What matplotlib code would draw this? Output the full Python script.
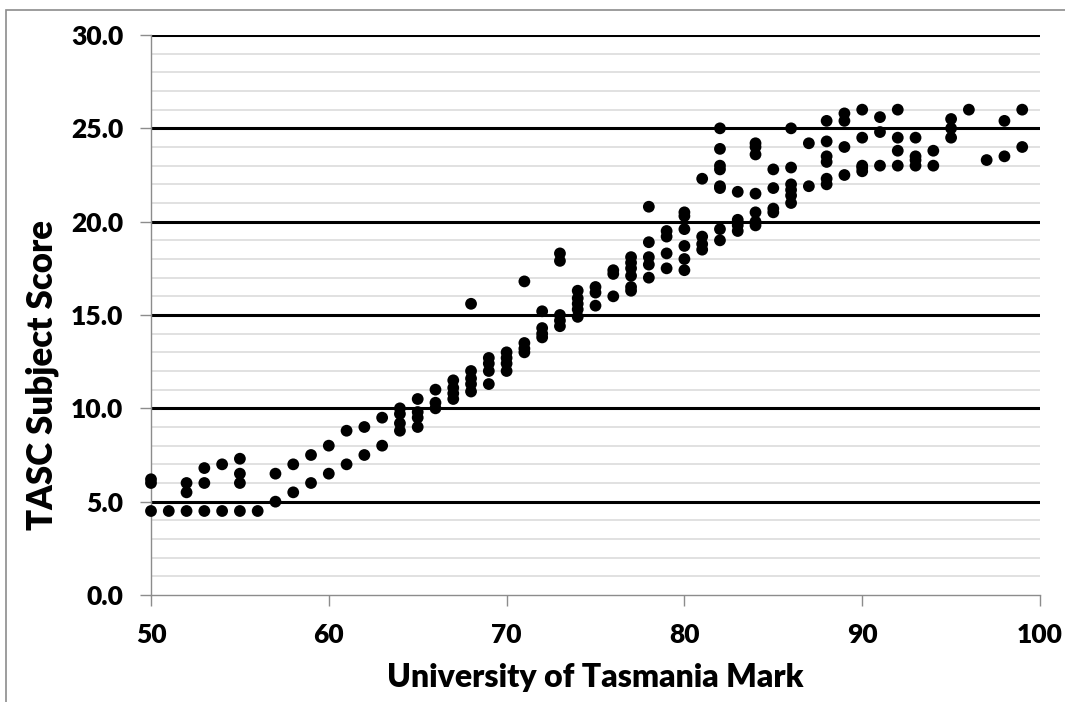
import matplotlib
matplotlib.use("Agg")
import matplotlib.pyplot as plt
from matplotlib.patches import Rectangle

# University of Tasmania mark (x) and the TASC scores seen at that mark (y)
marks = [50, 51, 52, 53, 54, 55, 56, 57, 58, 59,
         60, 61, 62, 63, 64, 65, 66, 67, 68, 69,
         70, 71, 72, 73, 74, 75, 76, 77, 78, 79,
         80, 81, 82, 83, 84, 85, 86, 87, 88, 89,
         90, 91, 92, 93, 94, 95, 96, 97, 98, 99]
scores = [
    [4.5, 6.0, 6.2], [4.5], [4.5, 5.5, 6.0], [4.5, 6.0, 6.8], [4.5, 7.0],
    [4.5, 6.0, 6.5, 7.3], [4.5], [5.0, 6.5], [5.5, 7.0], [6.0, 7.5],
    [6.5, 8.0], [7.0, 8.8], [7.5, 9.0], [8.0, 9.5], [8.8, 9.2, 9.7, 10.0],
    [9.0, 9.5, 9.8, 10.5], [10.0, 10.3, 11.0], [10.5, 10.8, 11.1, 11.5],
    [10.9, 11.3, 11.6, 12.0, 15.6], [11.3, 12.0, 12.4, 12.7],
    [12.0, 12.4, 12.7, 13.0], [13.0, 13.2, 13.5, 16.8], [13.8, 14.0, 14.3, 15.2],
    [14.4, 14.7, 15.0, 17.9, 18.3], [14.9, 15.3, 15.6, 15.9, 16.3],
    [15.5, 16.2, 16.5], [16.0, 17.2, 17.4], [16.3, 16.5, 17.1, 17.5, 17.8, 18.1],
    [17.0, 17.7, 18.1, 18.9, 20.8], [17.5, 18.3, 19.2, 19.5],
    [17.4, 18.0, 18.7, 19.6, 20.3, 20.5], [18.5, 18.8, 19.2, 22.3],
    [19.0, 19.6, 21.8, 21.9, 22.8, 23.0, 23.9, 25.0], [19.5, 19.8, 20.1, 21.6],
    [19.8, 20.0, 20.5, 21.5, 23.6, 24.0, 24.2], [20.5, 20.7, 21.8, 22.8],
    [21.0, 21.4, 21.7, 22.0, 22.9, 25.0], [21.9, 24.2],
    [22.0, 22.3, 23.2, 23.5, 24.3, 25.4], [22.5, 24.0, 25.4, 25.8],
    [22.7, 22.9, 23.0, 24.5, 26.0], [23.0, 24.8, 25.6], [23.0, 23.8, 24.5, 26.0],
    [23.0, 23.3, 23.5, 24.5], [23.0, 23.8], [24.5, 25.0, 25.5], [26.0],
    [23.3], [23.5, 25.4], [24.0, 26.0],
]

xs = [m for m, ys in zip(marks, scores) for _ in ys]
ys = [s for ys in scores for s in ys]

plt.rcParams['font.family'] = ['Lato', 'DejaVu Sans']
plt.rcParams['font.weight'] = 'heavy'

fig = plt.figure(figsize=(10.65, 7.02), dpi=100)
ax = fig.add_axes([151 / 1065, 107 / 702, 889 / 1065, 560 / 702])

# outer chart border (only left and top are in view)
fig.patches.append(Rectangle((6 / 1065, -1), 2, 1 - 10 / 702 + 1,
                             transform=fig.transFigure, fill=False,
                             edgecolor='#8c8c8c', linewidth=1.2))

ax.set_xlim(50, 100)
ax.set_ylim(0, 30)

for v in range(1, 30):
    if v % 5:
        ax.axhline(v, color='#d9d9d9', linewidth=1.1, zorder=1)
for v in range(5, 31, 5):
    ax.axhline(v, color='black', linewidth=2.2, zorder=2)

ax.scatter(xs, ys, s=72, color='black', edgecolors='none', zorder=3, clip_on=False)

ax.set_xticks(range(50, 101, 10))
ax.set_yticks(range(0, 31, 5))
ax.set_yticklabels([f"{v:.1f}" for v in range(0, 31, 5)])

for side in ('top', 'right'):
    ax.spines[side].set_visible(False)
for side in ('left', 'bottom'):
    ax.spines[side].set_color('#8c8c8c')
    ax.spines[side].set_linewidth(1.0)

ax.tick_params(axis='both', direction='out', length=8, width=1.0,
               color='#8c8c8c', labelsize=19)
ax.tick_params(axis='y', pad=12)
ax.tick_params(axis='x', pad=12)

ax.set_xlabel("University of Tasmania Mark", fontsize=23, fontweight='heavy', labelpad=12)
ax.set_ylabel("TASC Subject Score", fontsize=25, fontweight='heavy')
ax.yaxis.set_label_coords(-0.103, 0.393)

fig.savefig("out.png", dpi=100)
